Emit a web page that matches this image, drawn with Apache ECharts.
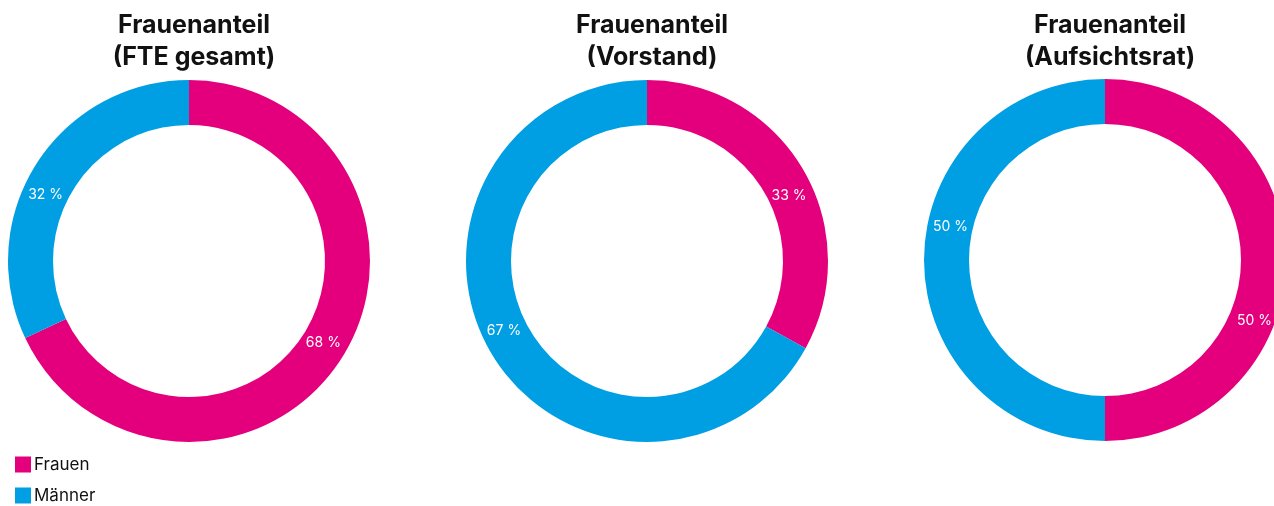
<!DOCTYPE html>
<html>
<head>
<meta charset="utf-8">
<script src="https://cdn.jsdelivr.net/npm/echarts@6/dist/echarts.min.js"></script>
<style>
  html, body { margin: 0; padding: 0; background: #fff; }
  #main { width: 1274px; height: 506px; }
</style>
</head>
<body>
<div id="main"></div>
<script>
// Daten
var kategorien = ['Frauen', 'Männer'];
var titel = ['Frauenanteil\n(FTE gesamt)', 'Frauenanteil\n(Vorstand)', 'Frauenanteil\n(Aufsichtsrat)'];
var fteGesamt = [68, 32];
var vorstand = [33, 67];
var aufsichtsrat = [50, 50];

var farben = ['#E4007D', '#009FE3'];
var schrift = 'Inter, "Noto Sans", sans-serif';

var myChart = echarts.init(document.getElementById('main'));

// Positionen der Ringe
var mitten = [[189, 261], [647, 261], [1105, 260]];
var werte = [fteGesamt, vorstand, aufsichtsrat];
// Feinverschiebung der Beschriftungen (wie im Original)
var labelVersatz = [
    [[-2, -5], [-7, 20]],
    [[3, 17], [-4, -12]],
    [[-12, 61], [7, -33]]
];

var serien = [];
var titles = [];
for (var i = 0; i < werte.length; i++) {
    titles.push({
        text: titel[i],
        left: mitten[i][0],
        top: 4,
        textAlign: 'center',
        textStyle: {
            fontFamily: schrift,
            fontWeight: 'bold',
            fontSize: 25,
            lineHeight: 32,
            color: '#111'
        }
    });
    serien.push({
        name: titel[i],
        type: 'pie',
        center: mitten[i],
        radius: [136, 181],
        startAngle: 90,
        clockwise: true,
        silent: true,
        avoidLabelOverlap: false,
        label: {
            show: true,
            position: 'inside',
            formatter: '{c} %',
            color: '#fff',
            fontFamily: schrift,
            fontSize: 14
        },
        labelLine: { show: false },
        itemStyle: { borderWidth: 0 },
        data: kategorien.map(function (k, j) {
            return {
                name: k,
                value: werte[i][j],
                label: { offset: labelVersatz[i][j] }
            };
        })
    });
}

myChart.setOption({
    backgroundColor: '#fff',
    color: farben,
    animation: false,
    title: titles,
    legend: {
        orient: 'vertical',
        left: 15,
        top: 456,
        padding: 0,
        itemWidth: 16,
        itemHeight: 16,
        itemGap: 14,
        icon: 'rect',
        data: kategorien,
        textStyle: {
            fontFamily: schrift,
            fontSize: 17,
            color: '#111',
            padding: [0, 0, 0, -2]
        }
    },
    series: serien
});
</script>
</body>
</html>
